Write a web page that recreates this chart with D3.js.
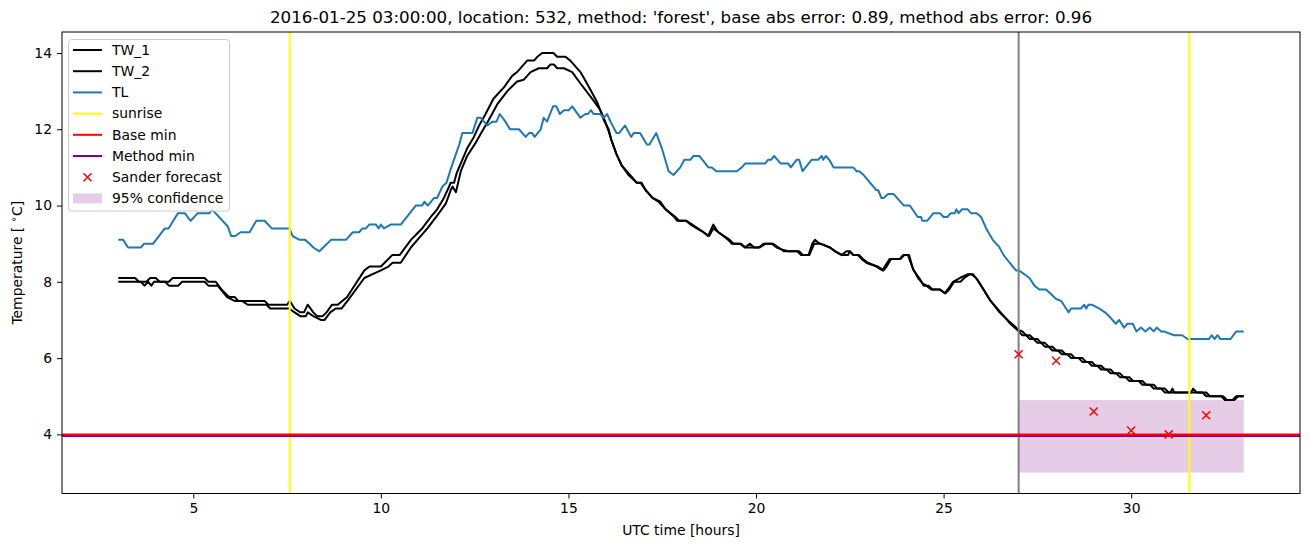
<!DOCTYPE html>
<html>
<head>
<meta charset="utf-8">
<script src="https://cdn.jsdelivr.net/npm/d3@7"></script>
<style>
  html, body { margin: 0; padding: 0; background: #fff; }
  svg { display: block; font-family: "DejaVu Sans", sans-serif; }
</style>
</head>
<body>
<svg id="chart" width="1310" height="547"></svg>
<script>
// ---------------- data ----------------
const titleText = "2016-01-25 03:00:00, location: 532, method: 'forest', base abs error: 0.89, method abs error: 0.96";
const xTicks = [5, 10, 15, 20, 25, 30];
const yTicks = [4, 6, 8, 10, 12, 14];

const tw1T = [3.0,3.45,3.55,3.75,3.85,4.0,4.1,4.35,4.45,5.3,5.4,5.6,5.75,5.95,6.1,6.2,6.45,6.9,7.0,7.5,7.57,7.7,7.85,7.95,8.05,8.2,8.3,8.45,8.55,8.7,8.85,9.1,9.56,9.7,10.0,10.1,10.2,10.3,10.5,10.8,11.0,11.1,11.33,11.5,11.68,11.82,11.86,11.95,12.02,12.17,12.3,12.48,12.62,12.79,13.0,13.28,13.5,13.63,13.9,14.08,14.17,14.3,14.6,14.7,14.92,15.05,15.32,15.55,15.77,15.94,16.07,16.15,16.28,16.42,16.6,16.82,16.92,17.06,17.24,17.4,17.59,17.82,17.9,18.13,18.26,18.42,18.6,18.72,18.86,18.99,19.13,19.26,19.35,19.57,19.7,19.84,19.95,20.07,20.2,20.42,20.55,20.68,20.86,21.1,21.2,21.4,21.5,21.57,21.7,21.97,22.1,22.28,22.41,22.5,22.59,22.72,22.81,22.94,23.21,23.37,23.43,23.56,23.83,23.92,24.08,24.18,24.32,24.45,24.54,24.67,24.89,25.03,25.11,25.25,25.43,25.65,25.74,25.87,26.0,26.22,26.49,26.76,26.93,
  27.0,27.1,27.2,27.3,27.4,27.5,27.6,27.7,27.8,27.9,28.05,28.15,28.3,28.4,28.6,28.7,28.85,28.95,29.1,29.2,29.35,29.45,29.6,29.7,29.85,29.95,30.2,30.3,30.5,30.6,30.8,30.9,31.05,31.1,31.15,31.6,31.65,31.75,31.9,32.0,32.4,32.5,32.7,32.8,33.0];
const tw1V = [8.1,8.1,8.0,8.0,8.1,8.1,8.0,8.0,8.1,8.1,8.0,8.0,7.8,7.6,7.6,7.5,7.5,7.5,7.4,7.4,7.5,7.3,7.2,7.2,7.4,7.2,7.1,7.1,7.2,7.4,7.4,7.6,8.3,8.4,8.4,8.5,8.6,8.7,8.7,9.1,9.3,9.4,9.7,9.9,10.2,10.5,10.6,10.6,10.85,11.2,11.5,11.8,12.1,12.4,12.8,13.1,13.4,13.5,13.8,13.8,13.9,14.0,14.0,13.9,13.9,13.8,13.5,13.1,12.7,12.25,12.0,11.7,11.35,11.05,10.85,10.6,10.6,10.4,10.2,10.1,9.9,9.7,9.6,9.6,9.5,9.4,9.3,9.2,9.5,9.3,9.2,9.1,9.0,9.0,8.9,9.0,8.9,8.9,9.0,9.0,8.9,8.85,8.8,8.8,8.7,8.7,9.0,9.1,9.0,8.9,8.8,8.7,8.8,8.8,8.7,8.7,8.6,8.5,8.4,8.3,8.4,8.6,8.6,8.7,8.7,8.35,8.1,7.95,7.9,7.8,7.8,7.7,7.8,8.0,8.1,8.2,8.2,8.1,7.9,7.55,7.2,6.95,6.8,
  6.7,6.6,6.6,6.5,6.5,6.4,6.4,6.3,6.3,6.2,6.2,6.1,6.1,6.0,6.0,5.9,5.9,5.8,5.8,5.7,5.7,5.6,5.6,5.5,5.5,5.4,5.4,5.3,5.3,5.2,5.2,5.1,5.1,5.2,5.1,5.1,5.2,5.1,5.1,5.0,5.0,4.9,4.9,5.0,5.0];

const tw2T = [3.0,3.6,3.7,3.8,3.88,3.95,4.25,4.35,4.6,4.7,5.3,5.4,5.65,5.9,6.1,6.3,6.45,6.95,7.05,7.55,7.7,7.85,8.0,8.05,8.2,8.4,8.5,8.65,8.8,8.95,9.11,9.56,9.78,10.0,10.2,10.31,10.53,10.8,11.06,11.24,11.51,11.73,11.86,11.91,12.0,12.13,12.3,12.53,12.7,12.88,13.1,13.37,13.63,13.81,13.99,14.21,14.43,14.52,14.61,14.7,14.88,15.1,15.32,15.67,15.85,15.94,16.07,16.15,16.28,16.42,16.6,16.82,16.95,17.06,17.24,17.45,17.59,17.85,17.95,18.15,18.3,18.45,18.6,18.75,18.86,19.0,19.15,19.3,19.4,19.6,19.72,20.1,20.25,20.45,20.6,20.75,21.15,21.25,21.42,21.55,21.72,21.97,22.12,22.3,22.45,22.5,22.6,22.75,22.85,22.98,23.25,23.4,23.48,23.6,23.85,23.95,24.05,24.2,24.35,24.47,24.6,24.7,24.9,25.05,25.15,25.28,25.45,25.55,25.7,25.78,25.9,26.03,26.25,26.52,26.78,26.95,
  27.1,27.2,27.3,27.4,27.5,27.6,27.7,27.8,27.9,28.0,28.15,28.25,28.4,28.5,28.7,28.8,28.95,29.05,29.2,29.3,29.45,29.55,29.7,29.8,29.95,30.05,30.3,30.4,30.6,30.7,30.9,31.0,32.0,32.1,32.45,32.55,32.75,32.85,33.0];
const tw2V = [8.0,8.0,7.9,8.0,7.9,8.0,8.0,7.9,7.9,8.0,8.0,7.9,7.9,7.6,7.5,7.5,7.4,7.4,7.3,7.3,7.2,7.1,7.1,7.2,7.1,7.0,7.0,7.2,7.3,7.3,7.5,8.1,8.2,8.3,8.4,8.5,8.5,8.9,9.2,9.4,9.75,10.05,10.4,10.5,10.35,10.9,11.3,11.65,11.95,12.25,12.65,13.0,13.25,13.3,13.5,13.6,13.6,13.7,13.7,13.6,13.6,13.5,13.2,12.75,12.5,12.3,11.95,11.7,11.35,11.05,10.8,10.6,10.6,10.4,10.2,10.1,9.9,9.7,9.6,9.6,9.5,9.4,9.3,9.2,9.4,9.3,9.2,9.1,9.0,9.0,8.9,8.9,9.0,9.0,8.9,8.8,8.8,8.7,8.7,9.0,9.0,8.9,8.8,8.7,8.7,8.8,8.7,8.7,8.6,8.5,8.4,8.3,8.4,8.6,8.6,8.7,8.7,8.3,8.1,7.9,7.9,7.8,7.8,7.7,7.8,8.0,8.0,8.1,8.2,8.2,8.05,7.85,7.5,7.2,6.9,6.75,
  6.7,6.6,6.6,6.5,6.5,6.4,6.4,6.3,6.3,6.2,6.2,6.1,6.1,6.0,6.0,5.9,5.9,5.8,5.8,5.7,5.7,5.6,5.6,5.5,5.5,5.4,5.4,5.3,5.3,5.2,5.2,5.1,5.1,5.0,5.0,4.9,4.9,5.0,5.0];

const tlT = [3.0,3.13,3.26,3.6,3.69,3.93,4.24,4.34,4.59,4.77,4.93,5.12,5.43,5.5,5.92,6.01,6.12,6.26,6.5,6.68,6.9,7.09,7.56,7.65,7.83,7.98,8.1,8.2,8.36,8.67,9.07,9.25,9.42,9.51,9.6,9.69,9.87,9.94,10.0,10.08,10.26,10.53,10.93,11.1,11.16,11.25,11.42,11.5,11.64,11.75,11.86,12.0,12.09,12.17,12.44,12.57,12.66,12.84,12.97,13.08,13.17,13.32,13.44,13.68,13.86,13.95,14.03,14.1,14.26,14.34,14.43,14.59,14.68,14.77,14.88,15.01,15.1,15.32,15.45,15.52,15.6,15.67,15.85,15.94,16.03,16.12,16.28,16.35,16.51,16.67,16.74,16.91,17.09,17.16,17.34,17.49,17.67,17.8,17.98,18.09,18.25,18.33,18.49,18.73,18.82,18.94,19.49,19.62,19.71,20.24,20.32,20.4,20.48,20.66,20.86,20.93,21.08,21.15,21.24,21.48,21.66,21.75,21.79,21.86,21.95,22.07,22.59,22.68,22.75,22.87,23.21,23.26,23.34,23.4,23.52,23.67,23.94,24.1,24.31,24.4,24.43,24.56,24.73,24.9,25.0,25.1,25.19,25.3,25.34,25.4,25.49,25.64,25.73,25.88,26.0,26.15,26.31,26.47,26.6,26.76,26.93,27.0,27.15,27.29,27.42,27.55,27.73,28.0,28.13,28.2,28.33,28.4,28.66,28.75,28.8,28.86,28.95,29.15,29.3,29.41,29.59,29.68,29.81,29.9,30.04,30.14,30.26,30.38,30.5,30.6,30.68,30.8,30.87,31.14,31.36,31.5,32.07,32.15,32.22,32.3,32.38,32.65,32.8,33.0];
const tlV = [9.1,9.1,8.9,8.9,9.0,9.0,9.4,9.4,9.8,9.8,9.6,9.8,9.8,9.9,9.45,9.2,9.2,9.3,9.3,9.6,9.6,9.4,9.4,9.2,9.1,9.1,9.0,8.9,8.8,9.1,9.1,9.3,9.3,9.4,9.4,9.5,9.5,9.4,9.5,9.4,9.5,9.5,10.0,10.0,10.1,10.0,10.2,10.2,10.5,10.6,10.95,11.35,11.6,11.9,11.9,12.3,12.3,12.1,12.2,12.2,12.4,12.2,12.0,12.0,11.8,11.9,11.9,11.8,12.0,12.3,12.2,12.6,12.6,12.4,12.5,12.5,12.6,12.3,12.4,12.4,12.5,12.4,12.4,12.3,12.4,12.2,11.9,11.9,12.1,11.8,11.9,11.9,11.6,11.6,11.9,11.5,10.9,10.8,11.0,11.2,11.2,11.3,11.3,11.0,11.0,10.9,10.9,11.0,11.1,11.1,11.2,11.2,11.3,11.1,11.1,11.0,11.2,11.2,10.9,11.2,11.2,11.3,11.2,11.3,11.2,11.0,11.0,10.9,10.9,10.8,10.4,10.4,10.2,10.2,10.3,10.3,10.0,10.0,9.7,9.7,9.6,9.6,9.8,9.8,9.7,9.7,9.8,9.8,9.9,9.8,9.9,9.9,9.8,9.8,9.7,9.37,9.1,8.93,8.7,8.5,8.3,8.3,8.2,8.1,7.9,7.8,7.8,7.55,7.5,7.4,7.2,7.3,7.3,7.4,7.3,7.4,7.4,7.3,7.2,7.1,6.9,7.0,6.8,6.9,6.9,6.7,6.8,6.7,6.8,6.7,6.8,6.7,6.7,6.6,6.6,6.5,6.5,6.6,6.5,6.6,6.5,6.5,6.7,6.7];

const sunriseT = [7.57, 31.55];
const nowT = 27.0;
const baseMin = 4.0;
const methodMin = 3.96;
const forecastT = [27, 28, 29, 30, 31, 32];
const forecastV = [6.1, 5.93, 4.6, 4.1, 4.0, 4.5];
const confT = [27, 33];
const confLow = 3.0;
const confHigh = 4.9;

const legendLabels = ["TW_1", "TW_2", "TL", "sunrise", "Base min", "Method min", "Sander forecast", "95% confidence"];

// ---------------- layout ----------------
const L = 62, R = 1300, T = 32, B = 493.5;
const svg = d3.select("#chart");
const x = d3.scaleLinear().domain([1.5, 34.5]).range([L, R]);
const y = d3.scaleLinear().domain([2.45, 14.55]).range([B, T]);

const FS = 13.9;
const clipId = "plotclip";
svg.append("defs").append("clipPath").attr("id", clipId)
  .append("rect").attr("x", L).attr("y", T).attr("width", R - L).attr("height", B - T);

const plot = svg.append("g").attr("clip-path", `url(#${clipId})`);

// confidence band
plot.append("rect")
  .attr("x", x(confT[0])).attr("width", x(confT[1]) - x(confT[0]))
  .attr("y", y(confHigh)).attr("height", y(confLow) - y(confHigh))
  .attr("fill", "purple").attr("fill-opacity", 0.2);

const line = d3.line().x(d => x(d[0])).y(d => y(d[1]));
const zip = (a, b) => a.map((t, i) => [t, b[i]]);

plot.append("path").datum(zip(tw1T, tw1V)).attr("d", line)
  .attr("fill", "none").attr("stroke", "black").attr("stroke-width", 2).attr("stroke-linejoin", "round");
plot.append("path").datum(zip(tw2T, tw2V)).attr("d", line)
  .attr("fill", "none").attr("stroke", "black").attr("stroke-width", 2).attr("stroke-linejoin", "round");
plot.append("path").datum(zip(tlT, tlV)).attr("d", line)
  .attr("fill", "none").attr("stroke", "#1f77b4").attr("stroke-width", 2).attr("stroke-linejoin", "round");

// sunrise lines
sunriseT.forEach(t => {
  plot.append("line").attr("x1", x(t)).attr("x2", x(t)).attr("y1", T).attr("y2", B)
    .attr("stroke", "yellow").attr("stroke-width", 2);
});
// now line
plot.append("line").attr("x1", x(nowT)).attr("x2", x(nowT)).attr("y1", T).attr("y2", B)
  .attr("stroke", "gray").attr("stroke-width", 2);

// method min & base min
plot.append("line").attr("x1", L).attr("x2", R).attr("y1", y(methodMin)).attr("y2", y(methodMin))
  .attr("stroke", "purple").attr("stroke-width", 2);
plot.append("line").attr("x1", L).attr("x2", R).attr("y1", y(baseMin)).attr("y2", y(baseMin))
  .attr("stroke", "red").attr("stroke-width", 2);

// forecast x markers
const ms = 4;
forecastT.forEach((t, i) => {
  const cx = x(t), cy = y(forecastV[i]);
  plot.append("path")
    .attr("d", `M${cx - ms},${cy - ms}L${cx + ms},${cy + ms}M${cx - ms},${cy + ms}L${cx + ms},${cy - ms}`)
    .attr("stroke", "red").attr("stroke-width", 1.5).attr("fill", "none");
});

// axes
const xAxis = svg.append("g").attr("transform", `translate(0,${B})`)
  .call(d3.axisBottom(x).tickValues(xTicks).tickSize(5).tickPadding(5).tickFormat(d3.format("d")));
const yAxis = svg.append("g").attr("transform", `translate(${L},0)`)
  .call(d3.axisLeft(y).tickValues(yTicks).tickSize(5).tickPadding(5).tickFormat(d3.format("d")));
[xAxis, yAxis].forEach(a => {
  a.select(".domain").remove();
  a.selectAll(".tick line").attr("stroke", "black").attr("stroke-width", 1);
  a.selectAll(".tick text").attr("fill", "black").style("font-size", FS + "px").style("font-family", "DejaVu Sans");
});

// frame
svg.append("rect").attr("x", L).attr("y", T).attr("width", R - L).attr("height", B - T)
  .attr("fill", "none").attr("stroke", "black").attr("stroke-width", 1);

// title & labels
svg.append("text").attr("x", (L + R) / 2).attr("y", 23).attr("text-anchor", "middle")
  .style("font-size", "16.7px").attr("fill", "black").text(titleText);
svg.append("text").attr("x", (L + R) / 2).attr("y", 535).attr("text-anchor", "middle")
  .style("font-size", FS + "px").attr("fill", "black").text("UTC time [hours]");
const yl = svg.append("text").attr("transform", `translate(22,${(T + B) / 2}) rotate(-90)`)
  .attr("text-anchor", "middle").style("font-size", FS + "px").attr("fill", "black");
yl.append("tspan").text("Temperature [ ");
yl.append("tspan").attr("dy", -5).style("font-size", "10px").text("∘");
yl.append("tspan").attr("dy", 5).text("C]");

// legend
const lg = svg.append("g");
lg.append("rect").attr("x", 68.5).attr("y", 39.5).attr("width", 161).attr("height", 171.5)
  .attr("rx", 3).attr("fill", "white").attr("fill-opacity", 0.8).attr("stroke", "#cccccc").attr("stroke-width", 1);
const rowY = i => 50 + i * 21.2;
const hx1 = 73, hx2 = 102, tx = 112;
const handleColors = ["black", "black", "#1f77b4", "yellow", "red", "purple"];
handleColors.forEach((c, i) => {
  lg.append("line").attr("x1", hx1).attr("x2", hx2).attr("y1", rowY(i)).attr("y2", rowY(i))
    .attr("stroke", c).attr("stroke-width", 2);
});
{
  const cx = (hx1 + hx2) / 2, cy = rowY(6);
  lg.append("path")
    .attr("d", `M${cx - ms},${cy - ms}L${cx + ms},${cy + ms}M${cx - ms},${cy + ms}L${cx + ms},${cy - ms}`)
    .attr("stroke", "red").attr("stroke-width", 1.5);
}
lg.append("rect").attr("x", hx1).attr("y", rowY(7) - 5).attr("width", hx2 - hx1).attr("height", 10)
  .attr("fill", "purple").attr("fill-opacity", 0.2);
legendLabels.forEach((s, i) => {
  lg.append("text").attr("x", tx).attr("y", rowY(i)).attr("dy", "0.35em")
    .style("font-size", FS + "px").attr("fill", "black").text(s);
});
</script>
</body>
</html>
